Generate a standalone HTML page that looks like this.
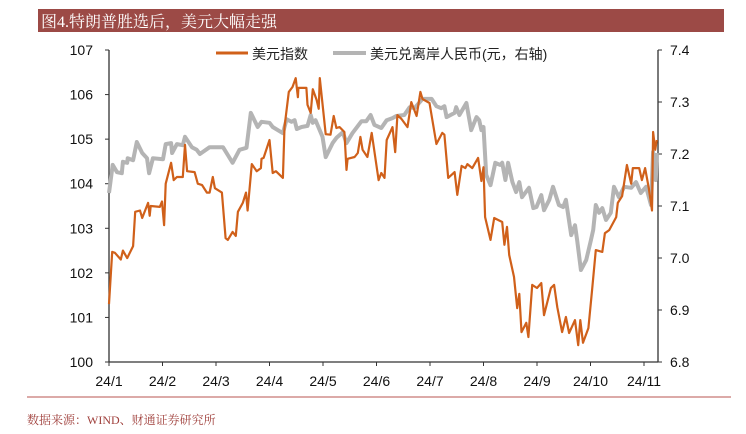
<!DOCTYPE html>
<html><head><meta charset="utf-8"><style>
body{margin:0;background:#fff;width:746px;height:429px;overflow:hidden;font-family:"Liberation Sans","Noto Sans CJK SC",sans-serif}
svg text{font-family:"Liberation Sans","Noto Sans CJK SC",sans-serif}
</style></head><body>
<svg id="c" width="746" height="429" viewBox="0 0 746 429">
<rect x="38" y="9" width="686" height="23" fill="#9c4a46"/>
<text x="41" y="27" fill="#fff" font-size="16" style="font-family:'Liberation Serif','Noto Serif CJK SC',serif">图4.特朗普胜选后，美元大幅走强</text>
<g id="axes"></g>
<g id="series"></g>
<g>
<line x1="216" y1="53" x2="248" y2="53" stroke="#d0601a" stroke-width="3"/>
<text x="252" y="59" font-size="14" fill="#222">美元指数</text>
<line x1="333" y1="53" x2="366" y2="53" stroke="#b4b4b4" stroke-width="4"/>
<text x="370" y="59" font-size="14" fill="#222">美元兑离岸人民币(元，右轴)</text>
</g>
<line x1="27" y1="397" x2="731" y2="397" stroke="#dcaaa8" stroke-width="2"/>
<text x="27" y="424" font-size="12" fill="#a0403c" style="font-family:'Liberation Serif','Noto Serif CJK SC',serif">数据来源：WIND、财通证券研究所</text>
</svg>
<script>
const monthLabels=["24/1","24/2","24/3","24/4","24/5","24/6","24/7","24/8","24/9","24/10","24/11"];
const leftTicks=[100,101,102,103,104,105,106,107];
const rightTicks=[6.8,6.9,7.0,7.1,7.2,7.3,7.4];
// time in tenths of a month since 24/1
const dxyT=[0,0.6,1.1,2.2,2.6,3.4,4.5,4.9,5.8,6.2,7.3,7.6,7.8,9.5,9.9,10.3,10.6,11.6,12.1,12.7,13.8,14.2,14.6,16.0,16.6,17.4,18.3,18.8,19.4,19.8,21.1,21.8,22.2,23.1,23.7,24.1,25.0,25.6,25.9,26.7,27.6,28.4,28.5,28.9,30.0,30.6,31.2,32.5,32.8,33.6,34.3,34.9,35.3,35.4,36.9,37.1,37.7,38.1,38.8,39.2,39.4,40.5,41.4,42.0,42.5,43.1,44.0,44.4,44.6,45.9,46.5,47.0,47.4,48.3,49.1,50.4,50.9,51.5,51.9,53.0,53.5,53.9,54.7,55.8,56.5,57.5,58.2,58.6,59.9,61.2,62.3,62.7,63.4,64.6,65.1,65.9,66.6,67.0,67.9,69.0,69.6,70.0,70.3,71.3,72.0,73.5,73.9,74.4,74.8,75.7,76.3,76.7,77.1,78.0,78.4,79.1,80.0,80.8,81.3,82.6,83.2,83.8,84.7,85.4,86.0,87.1,87.7,88.1,88.6,89.6,90.3,91.0,92.2,92.7,93.5,94.8,95.1,95.9,96.8,97.6,97.9,99.1,99.6,100.2,100.9,101.5,101.7,102.1,102.4];
const dxyV=[101.3,102.47,102.45,102.3,102.5,102.33,102.6,103.37,103.4,103.23,103.57,103.28,103.5,103.48,103.6,103.07,104.0,104.47,104.08,104.15,104.15,104.87,104.28,104.26,104.0,103.97,103.8,103.8,104.15,103.9,103.8,102.78,102.74,102.92,102.83,103.37,103.57,103.8,103.4,104.44,104.28,104.35,104.56,104.58,104.98,104.24,104.28,104.13,105.27,106.06,106.17,106.37,105.94,106.15,106.15,105.77,105.59,106.12,105.88,105.68,106.37,105.11,105.1,105.52,105.25,105.27,105.16,104.31,104.56,104.6,104.69,105.05,104.76,104.6,105.14,104.08,104.24,104.13,104.98,105.27,104.71,105.54,105.45,105.27,105.83,105.52,106.06,105.9,105.81,104.89,105.14,105.1,104.13,104.26,103.75,104.4,104.35,104.44,104.35,104.58,104.06,104.37,103.25,102.74,103.23,103.14,102.63,103.03,102.4,101.91,101.21,101.53,100.67,100.88,100.56,101.73,101.66,101.77,101.05,101.66,101.73,101.23,100.67,101.01,100.65,100.94,100.38,100.94,100.43,100.76,101.62,102.51,102.47,102.89,102.96,103.25,103.57,103.72,104.42,104.0,104.35,104.35,104.08,104.35,103.9,103.4,105.16,104.76,104.98];
const cnhT=[0,0.7,1.5,2.4,2.6,3.4,3.5,4.5,5.2,6.2,7.1,7.5,8.2,10.1,10.6,11.6,11.8,12.7,13.8,14.2,15.5,16.4,17.0,18.8,21.3,22.2,23.1,24.4,25.7,26.5,27.8,28.5,30.0,30.6,32.5,33.2,34.1,34.7,35.1,36.0,37.1,37.7,38.1,38.6,39.9,40.5,41.8,42.5,43.7,44.4,45.5,47.2,48.1,48.9,49.6,50.9,51.9,53.0,53.7,55.2,56.2,57.1,58.6,60.3,61.2,62.1,62.7,63.1,64.6,64.9,65.5,66.8,67.7,68.7,69.2,69.6,70.0,70.5,71.3,72.2,73.1,73.5,74.1,74.6,75.4,76.1,76.7,77.2,78.5,79.3,79.9,80.8,81.3,82.3,83.0,84.1,84.9,85.4,86.4,87.1,87.5,88.2,89.2,90.1,90.5,91.0,91.6,92.2,92.9,93.8,94.4,95.3,96.3,97.6,98.5,99.4,100.4,101.3,101.7,102.2,102.4];
const cnhV=[7.125,7.179,7.165,7.163,7.185,7.183,7.192,7.188,7.223,7.202,7.192,7.163,7.192,7.19,7.219,7.221,7.202,7.219,7.217,7.233,7.213,7.208,7.2,7.213,7.213,7.198,7.183,7.208,7.212,7.279,7.252,7.262,7.26,7.252,7.24,7.267,7.262,7.265,7.248,7.252,7.254,7.275,7.26,7.265,7.233,7.194,7.221,7.231,7.242,7.221,7.24,7.263,7.263,7.275,7.256,7.25,7.265,7.269,7.273,7.275,7.29,7.288,7.306,7.306,7.292,7.288,7.292,7.271,7.279,7.29,7.275,7.298,7.246,7.271,7.265,7.246,7.252,7.16,7.14,7.183,7.179,7.183,7.15,7.183,7.146,7.127,7.146,7.117,7.135,7.096,7.098,7.121,7.092,7.112,7.137,7.102,7.098,7.112,7.044,7.063,7.035,6.977,6.996,7.035,7.054,7.102,7.087,7.096,7.073,7.087,7.137,7.117,7.137,7.135,7.146,7.125,7.137,7.102,7.204,7.15,7.202];

const X0=109,X1=658,YT=50,YB=362;
const xs=t=>X0+t*5.35;
const yL=v=>YB-(v-100)/7*(YB-YT);
const yR=v=>YB-(v-6.8)/0.6*(YB-YT);
const NS="http://www.w3.org/2000/svg";
const axes=document.getElementById('axes'),series=document.getElementById('series');
function mk(tag,attrs,parent){const e=document.createElementNS(NS,tag);for(const k in attrs)e.setAttribute(k,attrs[k]);parent.appendChild(e);return e;}

let e;
e=mk('line',{x1:X0,y1:YT,x2:X0,y2:YB,stroke:'#333','stroke-width':1.3},axes);


e=mk('line',{x1:X1,y1:YT,x2:X1,y2:YB,stroke:'#333','stroke-width':1.3},axes);


e=mk('line',{x1:X0,y1:YB,x2:X1,y2:YB,stroke:'#333','stroke-width':1.3},axes);


leftTicks.forEach(v=>{
  mk('line',{x1:X0-4,y1:yL(v),x2:X0,y2:yL(v),stroke:'#333'},axes);
  const t=mk('text',{x:X0-16,y:yL(v)+5,'font-size':14,'text-anchor':'end',fill:'#111'},axes);
  t.textContent=v;
  
  
});
rightTicks.forEach(v=>{
  mk('line',{x1:X1,y1:yR(v),x2:X1+4,y2:yR(v),stroke:'#333'},axes);
  const t=mk('text',{x:X1+12,y:yR(v)+5,'font-size':14,fill:'#111'},axes);
  t.textContent=v.toFixed(1);
  
  
});
monthLabels.forEach((m,i)=>{
  const x=xs(i*10);
  mk('line',{x1:x,y1:YB,x2:x,y2:YB+4,stroke:'#333'},axes);
  const t=mk('text',{x:x,y:YB+24,'font-size':14,'text-anchor':'middle',fill:'#111'},axes);
  t.textContent=m;
  
  
});
const pc=cnhT.map((t,i)=>xs(t).toFixed(1)+','+yR(cnhV[i]).toFixed(1)).join(' ');
e=mk('polyline',{points:pc,fill:'none',stroke:'#b4b4b4','stroke-width':4,'stroke-linejoin':'round'},series);


const pd=dxyT.map((t,i)=>xs(t).toFixed(1)+','+yL(dxyV[i]).toFixed(1)).join(' ');
e=mk('polyline',{points:pd,fill:'none',stroke:'#d0601a','stroke-width':2.2,'stroke-linejoin':'round'},series);


</script>
</body></html>
